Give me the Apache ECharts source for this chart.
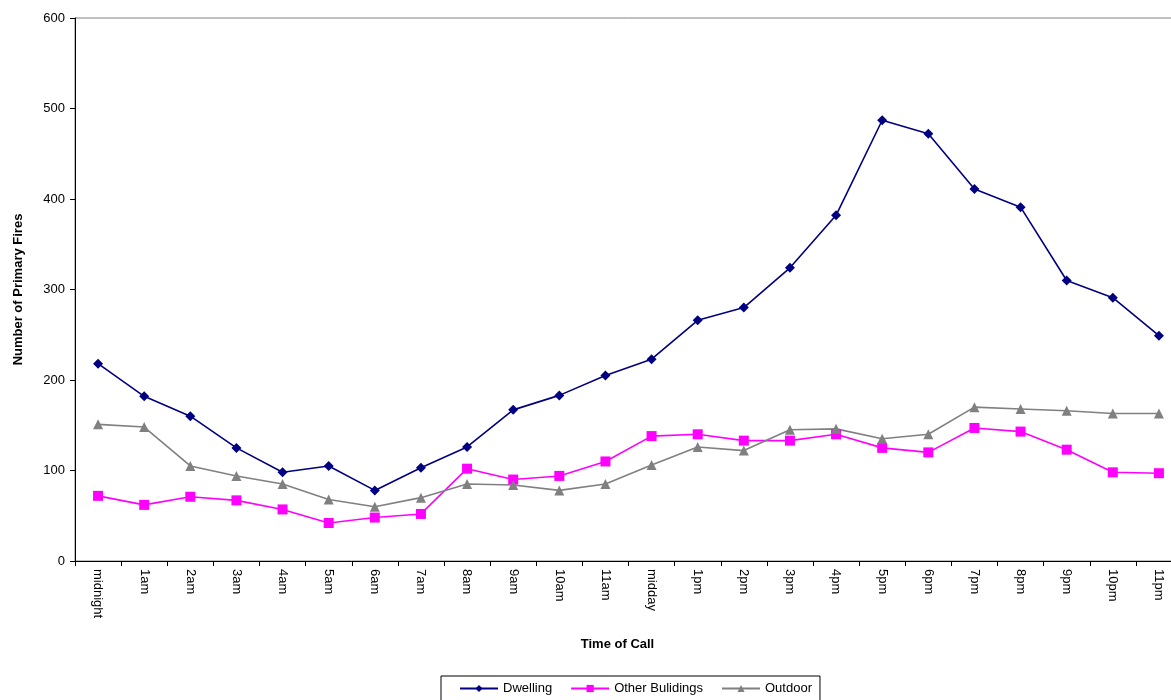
<!DOCTYPE html>
<html><head><meta charset="utf-8">
<script src="https://cdn.jsdelivr.net/npm/echarts@6/dist/echarts.min.js"></script>
<style>html,body{margin:0;padding:0;background:#fff;overflow:hidden;width:1171px;height:700px}#c{width:1200px;height:700px}</style>
</head><body><div id="c"></div>
<script>
const categories = ["midnight","1am","2am","3am","4am","5am","6am","7am","8am","9am","10am","11am","midday","1pm","2pm","3pm","4pm","5pm","6pm","7pm","8pm","9pm","10pm","11pm"];
const dwelling = [218,182,160,125,98,105,78,103,126,167,183,205,223,266,280,324,382,487,472,411,391,310,291,249];
const otherBuildings = [72,62,71,67,57,42,48,52,102,90,94,110,138,140,133,133,140,125,120,147,143,123,98,97];
const outdoor = [151,148,105,94,85,68,60,70,85,84,78,85,106,126,122,145,146,135,140,170,168,166,163,163];
const yTicks = {min:0, max:600, interval:100};

const chart = echarts.init(document.getElementById('c'));
const font = 'Liberation Sans, Arial, sans-serif';
chart.setOption({
  animation:false,
  textStyle:{fontFamily:font},
  grid:{left:75, top:18, width:1107, height:543, show:true, borderColor:'#808080', borderWidth:1, containLabel:false},
  legend:{
    top:676, left:441,
    data:['Dwelling','Other Bulidings','Outdoor'],
    borderColor:'#000', borderWidth:1, padding:[6,8,8,18],
    itemWidth:38, itemHeight:9, itemGap:18,
    textStyle:{fontFamily:font, fontSize:13, color:'#000'}
  },
  xAxis:{
    type:'category', data:categories, boundaryGap:true,
    name:'Time of Call', nameLocation:'middle', nameGap:77,
    nameTextStyle:{fontFamily:font, fontSize:13, fontWeight:'bold', color:'#000', padding:[0,22,0,0]},
    axisLine:{lineStyle:{color:'#000', width:1}},
    axisTick:{show:true, alignWithLabel:false, length:5, lineStyle:{color:'#000'}},
    axisLabel:{rotate:-90, interval:0, fontFamily:font, fontSize:13, color:'#000', margin:8},
    splitLine:{show:false}
  },
  yAxis:{
    type:'value', min:yTicks.min, max:yTicks.max, interval:yTicks.interval,
    name:'Number of Primary Fires', nameLocation:'middle', nameGap:50,
    nameTextStyle:{fontFamily:font, fontSize:13, fontWeight:'bold', color:'#000'},
    axisLine:{show:true, lineStyle:{color:'#000', width:1}},
    axisTick:{show:true, length:5, lineStyle:{color:'#000'}},
    axisLabel:{fontFamily:font, fontSize:13, color:'#000', margin:10},
    splitLine:{show:false}
  },
  series:[
    {name:'Dwelling', type:'line', data:dwelling, symbol:'diamond', symbolSize:10,
     lineStyle:{color:'#000080', width:1.6}, itemStyle:{color:'#000080'}},
    {name:'Other Bulidings', type:'line', data:otherBuildings, symbol:'rect', symbolSize:10,
     lineStyle:{color:'#FF00FF', width:1.6}, itemStyle:{color:'#FF00FF'}},
    {name:'Outdoor', type:'line', data:outdoor, symbol:'triangle', symbolSize:10,
     lineStyle:{color:'#808080', width:1.6}, itemStyle:{color:'#808080'}}
  ]
});
</script></body></html>
